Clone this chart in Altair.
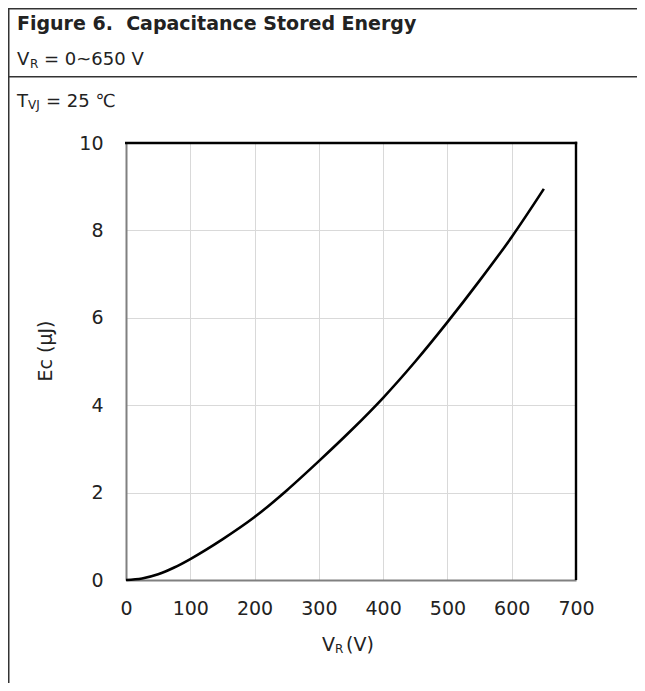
import altair as alt
import pandas as pd

# Data
v_r = [0, 25, 50, 75, 100, 150, 200, 250, 300, 350, 400, 450, 500, 550, 600, 650]
ec = [0, 0.035, 0.13, 0.285, 0.48, 0.93, 1.44, 2.05, 2.72, 3.42, 4.17, 5.0, 5.9, 6.85, 7.85, 8.95]

x_ticks = [0, 100, 200, 300, 400, 500, 600, 700]
y_ticks = [0, 2, 4, 6, 8, 10]

FONT = "DejaVu Sans"
W, H = 450, 437
PAD_L, PAD_T, PAD_R, PAD_B = 118, 135, 61, 103

def px(page_x):
    return page_x - 8 - PAD_L

def py(page_y):
    return page_y - 8 - PAD_T

df = pd.DataFrame({"v": v_r, "e": ec})

base = alt.Chart(df)

curve = base.mark_line(color="black", strokeWidth=2.6, interpolate="monotone").encode(
    x=alt.X("v:Q", scale=alt.Scale(domain=[0, 700], nice=False),
            axis=alt.Axis(values=x_ticks, title=None, grid=True, gridColor="#d9d9d9",
                          domainColor="#808080", domainWidth=2, ticks=False,
                          labelFlush=False, labelOverlap=False,
                          labelFont=FONT, labelFontSize=19, labelColor="#222222",
                          labelPadding=19)),
    y=alt.Y("e:Q", scale=alt.Scale(domain=[0, 10], nice=False),
            axis=alt.Axis(values=y_ticks, title=None, grid=True, gridColor="#d9d9d9",
                          domainColor="#808080", domainWidth=2, ticks=False,
                          labelFlush=False, labelOverlap=False,
                          labelFont=FONT, labelFontSize=19, labelColor="#222222",
                          labelPadding=23)),
)

one = pd.DataFrame({"k": [0]})
ob = alt.Chart(one)

def box(x1, x2, y1, y2, color="black"):
    return ob.mark_rect(color=color, strokeWidth=0).encode(
        x=alt.value(x1), x2=alt.value(x2), y=alt.value(y1), y2=alt.value(y2))

def text(s, x, y, size=18, weight="normal", angle=0, align="left"):
    return ob.mark_text(text=s, font=FONT, fontSize=size, fontWeight=weight,
                        color="#222222", align=align, baseline="middle", angle=angle).encode(
        x=alt.value(x), y=alt.value(y))

# black top and right edges of the plot frame
frame_top = box(-1, W + 1.2, -1.2, 1.2, "black")
frame_right = box(W - 1.2, W + 1.2, -1.2, H, "black")

# table-like borders of the figure header
RIGHT_END = PAD_R + W
border_top = box(px(8), RIGHT_END, py(8), py(9.5), "#333333")
border_left = box(px(8), px(9.5), py(8), H + PAD_B, "#333333")
border_mid = box(px(8), RIGHT_END, py(76), py(77.5), "#333333")

layers = [
    curve, frame_top, frame_right, border_top, border_left, border_mid,
    text("Figure 6.\u00a0 Capacitance Stored Energy", px(17), py(24), 19, "bold"),
    text("V", px(17), py(60), 18),
    text("R", px(30), py(64), 12),
    text("= 0~650 V", px(44), py(60), 18),
    text("T", px(17), py(102), 18),
    text("VJ", px(28), py(105), 12),
    text("= 25 \u2103", px(46), py(102), 18),
    text("Ec (\u03bcJ)", px(46), py(351), 19, angle=270, align="center"),
    text("V", px(322), py(645), 19),
    text("R", px(335), py(649), 12),
    text("(V)", px(346), py(645), 19),
]

chart = alt.layer(*layers).properties(
    width=W, height=H,
    autosize=alt.AutoSizeParams(type="none"),
    padding={"left": PAD_L, "top": PAD_T, "right": PAD_R, "bottom": PAD_B},
).configure_view(stroke=None)

chart.save("out.html", embed_options={"renderer": "svg", "actions": False})
